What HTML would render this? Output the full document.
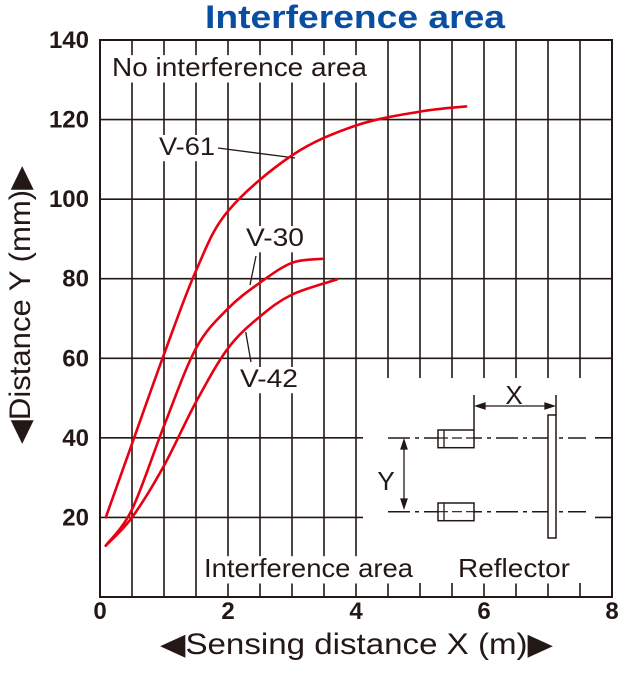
<!DOCTYPE html>
<html><head><meta charset="utf-8"><style>
html,body{margin:0;padding:0;background:#fff;}
svg{display:block;font-family:"Liberation Sans",Arial,sans-serif;}
</style></head><body>
<svg id="chart" width="640" height="685" viewBox="0 0 640 685" xmlns="http://www.w3.org/2000/svg">
<text x="205" y="28" textLength="300" lengthAdjust="spacingAndGlyphs" font-size="32" font-weight="bold" fill="#0a4ea2">Interference area</text>
<g id="grid"></g>
<g id="diagram"></g>
<g id="labels"></g>
<g id="series"></g>
<g id="axes"></g>
</svg>
<script>
const xTicks=[0,2,4,6,8];
const yTicks=[20,40,60,80,100,120,140];
const v61X=[0.09,0.5,1.0,1.5,2.0,3.0,4.0,5.0,5.72];
const v61Y=[20,38.5,61,82,97,111,118.5,122,123.3];
const v30X=[0.09,0.5,1.0,1.5,2.0,2.5,3.0,3.47];
const v30Y=[12.9,22,43,62.5,72.5,79,84,85];
const v42X=[0.09,0.5,1.0,1.5,2.0,2.5,3.0,3.7];
const v42Y=[12.9,20,33,49,62.5,70.5,76,79.8];

const NS="http://www.w3.org/2000/svg";
const X0=100,X1=612,Y0=597,Y1=40;
function sx(v){return X0+(v/8)*(X1-X0);}
function sy(v){return Y0-(v/140)*(Y0-Y1);}
function mk(tag,attrs,parent){const e=document.createElementNS(NS,tag);for(const k in attrs)e.setAttribute(k,attrs[k]);parent.appendChild(e);return e;}
const grid=document.getElementById('grid'),diag=document.getElementById('diagram'),labs=document.getElementById('labels'),ser=document.getElementById('series'),axes=document.getElementById('axes');
const ink="#231815";
for(let i=1;i<16;i++){const xv=i*0.5;const x=sx(xv);
 if(xv<=4){const l=mk('line',{x1:x,y1:Y1,x2:x,y2:Y0,stroke:ink,'stroke-width':1.6},grid);}
 else{const l=mk('line',{x1:x,y1:Y1,x2:x,y2:378,stroke:ink,'stroke-width':1.6},grid);
  const t=mk('line',{x1:x,y1:583,x2:x,y2:Y0,stroke:ink,'stroke-width':1.6},grid);}
}
for(let v=20;v<140;v+=20){const y=sy(v);
 if(v<=40){const a=mk('line',{x1:X0,y1:y,x2:363,y2:y,stroke:ink,'stroke-width':1.6},grid);
  const b=mk('line',{x1:595,y1:y,x2:X1,y2:y,stroke:ink,'stroke-width':1.6},grid);}
 else{const a=mk('line',{x1:X0,y1:y,x2:X1,y2:y,stroke:ink,'stroke-width':1.6},grid);}
}
const fr=mk('rect',{x:X0,y:Y1,width:X1-X0,height:Y0-Y1,fill:'none',stroke:ink,'stroke-width':2},axes);

function lab(txt,x,y,size,name,w){
 const r=mk('rect',{x:x-3,y:y-size*0.8,width:w+6,height:size*1.05,fill:'#fff'},labs);
 const t=mk('text',{x:x,y:y,'font-size':size,fill:ink,textLength:w,lengthAdjust:'spacingAndGlyphs'},labs);t.textContent=txt;}
lab('No interference area',112,76,26,'no-interference-label',255);
lab('Interference area',204,577,26,'interference-label',209);
lab('Reflector',458,577,26,'reflector-label',112);
lab('V-61',159,155,25,'v61-label',56);
lab('V-30',246,246,25,'v30-label',58);
lab('V-42',240,387,25,'v42-label',58);
[[218,148,295,158,'v61-leader'],[256,256,250,285,'v30-leader'],[245.7,332,251,362,'v42-leader']].forEach(a=>{const l=mk('line',{x1:a[0],y1:a[1],x2:a[2],y2:a[3],stroke:ink,'stroke-width':1.3},labs);});
[438,511.7].forEach((y,i)=>{const d=mk('line',{x1:388,y1:y,x2:586,y2:y,stroke:ink,'stroke-width':1.5,'stroke-dasharray':'22 5 4 5'},diag);
 const by=i==0?430:503;const b=mk('rect',{x:438,y:by,width:36,height:17.7,fill:'#fff',stroke:ink,'stroke-width':1.5},diag);
 const il=mk('line',{x1:444,y1:by,x2:444,y2:by+17.7,stroke:ink,'stroke-width':1.3},diag);
 const dl=mk('line',{x1:438,y1:y,x2:474,y2:y,stroke:ink,'stroke-width':1.2,'stroke-dasharray':'10 4'},diag);});
[[474,430,474,395],[556,395,556,415]].forEach(a=>{const l=mk('line',{x1:a[0],y1:a[1],x2:a[2],y2:a[3],stroke:ink,'stroke-width':1.5},diag);});
const rf=mk('rect',{x:548,y:415,width:8,height:123,fill:'#fff',stroke:ink,'stroke-width':1.5},diag);
const xa=mk('path',{d:'M476 406 L554 406 M476 406 l9 -3 v6 z M554 406 l-9 -3 v6 z',stroke:ink,'stroke-width':1.3,fill:ink},diag);
const ya=mk('path',{d:'M404 440 L404 508 M404 440 l-3 9 h6 z M404 508 l-3 -9 h6 z',stroke:ink,'stroke-width':1.3,fill:ink},diag);
const xt=mk('text',{x:514,y:404,'font-size':26,'text-anchor':'middle',fill:ink},diag);xt.textContent='X';
const yt=mk('text',{x:386,y:490,'font-size':26,'text-anchor':'middle',fill:ink},diag);yt.textContent='Y';
function pathFrom(xs,ys){const p=xs.map((x,i)=>[sx(x),sy(ys[i])]);let d='M'+p[0][0]+' '+p[0][1];
 for(let i=0;i<p.length-1;i++){const p0=p[i-1]||p[i],p1=p[i],p2=p[i+1],p3=p[i+2]||p2;
  d+=' C'+(p1[0]+(p2[0]-p0[0])/6)+' '+(p1[1]+(p2[1]-p0[1])/6)+' '+(p2[0]-(p3[0]-p1[0])/6)+' '+(p2[1]-(p3[1]-p1[1])/6)+' '+p2[0]+' '+p2[1];}
 return d;}
[[v61X,v61Y,'v61-curve'],[v30X,v30Y,'v30-curve'],[v42X,v42Y,'v42-curve']].forEach(s=>{const c=mk('path',{d:pathFrom(s[0],s[1]),fill:'none',stroke:'#e60012','stroke-width':2.6,'stroke-linecap':'round'},ser);});
xTicks.forEach(v=>{const t=mk('text',{x:sx(v),y:619,'font-size':24,'font-weight':'bold','text-anchor':'middle',fill:ink},axes);t.textContent=v;});
yTicks.forEach(v=>{const t=mk('text',{x:89,y:sy(v)+8,'font-size':24,'font-weight':'bold','text-anchor':'end',fill:ink},axes);t.textContent=v;});
const xtitle=mk('text',{x:160,y:654,'font-size':30,textLength:393,lengthAdjust:'spacingAndGlyphs',fill:ink},axes);xtitle.textContent='◀Sensing distance X (m)▶';
const ytitle=mk('text',{x:-139,y:0,'font-size':30,textLength:278,lengthAdjust:'spacingAndGlyphs',fill:ink,transform:'translate(30,305) rotate(-90)'},axes);ytitle.textContent='◀Distance Y (mm)▶';
</script>
</body></html>
